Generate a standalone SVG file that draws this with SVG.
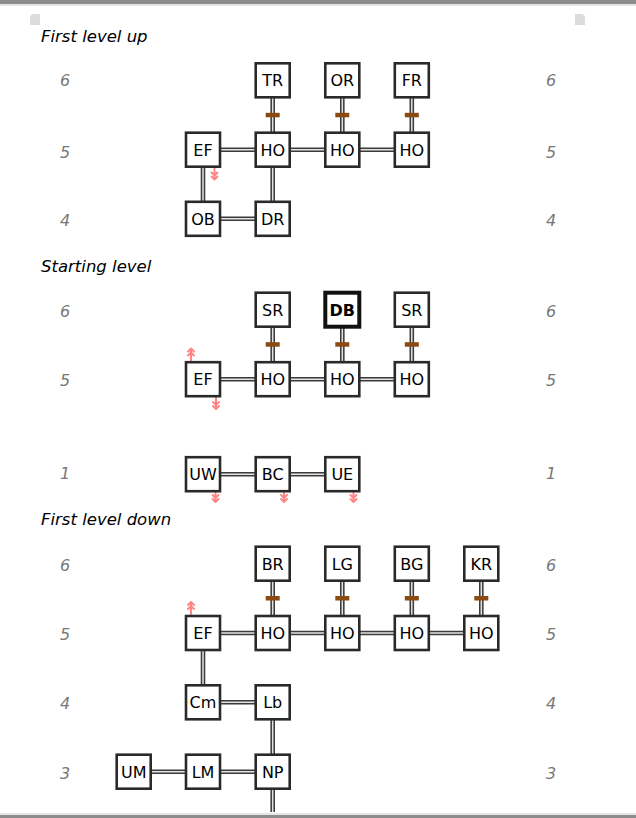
<svg xmlns="http://www.w3.org/2000/svg" xmlns:xlink="http://www.w3.org/1999/xlink" width="636" height="818" viewBox="0 0 636 818">
<style>
.bg{fill:#ffffff}
.box{fill:#ffffff;stroke:#2a2a2a;stroke-width:2.6}
.boxb{fill:#ffffff;stroke:#111111;stroke-width:4}
.lbl{font-family:"DejaVu Sans",sans-serif;font-size:16px;fill:#000;text-anchor:middle}
.lblb{font-weight:bold}
.sec{font-family:"DejaVu Sans",sans-serif;font-style:italic;font-size:16.5px;fill:#000}
.num{font-family:"DejaVu Sans",sans-serif;font-style:italic;font-size:16px;fill:#777;text-anchor:middle}
.co{fill:none;stroke:#3c3c3c;stroke-width:4.6}
.ci{fill:none;stroke:#e2e2e2;stroke-width:1.5}
.mk{fill:#8b4a12}
.ar{fill:none;stroke:#ff8585;stroke-width:2;stroke-linecap:round;stroke-linejoin:round}
</style>
<defs>
<g id="dn"><path class="ar" d="M0 0V12M-3 5L0 8L3 5M-3 9L0 12L3 9"/></g>
<g id="up"><path class="ar" d="M0 12V0M-3 7L0 4L3 7M-3 3L0 0L3 3"/></g>
<path id="p1" d="M203 149.7H411.8M272.7 80.3V218.8M342.3 80.3V149.7M411.8 80.3V149.7M203 149.7V218.8M203 218.8H272.7"/>
<path id="p2" d="M203 379.2H411.8M272.7 309.7V379.2M342.3 309.7V379.2M411.8 309.7V379.2M203 474.2H342.3"/>
<path id="p3" d="M203 633H481.3M272.7 563.7V633M342.3 563.7V633M411.8 563.7V633M481.3 563.7V633M203 633V702.3M203 702.3H272.7M272.7 702.3V812M133.7 771.7H272.7"/>
</defs>
<rect class="bg" x="0" y="0" width="636" height="818"/>
<rect x="0" y="0" width="636" height="4" fill="#8c8c8c"/>
<rect x="0" y="4" width="636" height="2" fill="#e6e6e6"/>
<rect x="0" y="813" width="636" height="2" fill="#e6e6e6"/>
<rect x="0" y="815" width="636" height="3" fill="#8c8c8c"/>
<path d="M30 25V18Q30 14 34 14H40V25Z" fill="#dcdcdc"/>
<path d="M575 14H581Q585 14 585 18V25H575Z" fill="#dcdcdc"/>

<g id="labels">
<text class="sec" x="41" y="42">First level up</text>
<text class="sec" x="41" y="272">Starting level</text>
<text class="sec" x="41" y="525">First level down</text>
<text class="num" x="65" y="86">6</text><text class="num" x="551" y="86">6</text>
<text class="num" x="65" y="158">5</text><text class="num" x="551" y="158">5</text>
<text class="num" x="65" y="226">4</text><text class="num" x="551" y="226">4</text>
<text class="num" x="65" y="317">6</text><text class="num" x="551" y="317">6</text>
<text class="num" x="65" y="386">5</text><text class="num" x="551" y="386">5</text>
<text class="num" x="65" y="479">1</text><text class="num" x="551" y="479">1</text>
<text class="num" x="65" y="571">6</text><text class="num" x="551" y="571">6</text>
<text class="num" x="65" y="640">5</text><text class="num" x="551" y="640">5</text>
<text class="num" x="65" y="709">4</text><text class="num" x="551" y="709">4</text>
<text class="num" x="65" y="779">3</text><text class="num" x="551" y="779">3</text>
</g>

<g id="connectors">
<use xlink:href="#p1" class="co"/><use xlink:href="#p1" class="ci"/>
<use xlink:href="#p2" class="co"/><use xlink:href="#p2" class="ci"/>
<use xlink:href="#p3" class="co"/><use xlink:href="#p3" class="ci"/>
<rect class="mk" x="265.7" y="112.8" width="14" height="4.5"/>
<rect class="mk" x="335.3" y="112.8" width="14" height="4.5"/>
<rect class="mk" x="404.8" y="112.8" width="14" height="4.5"/>
<rect class="mk" x="265.7" y="342.2" width="14" height="4.5"/>
<rect class="mk" x="335.3" y="342.2" width="14" height="4.5"/>
<rect class="mk" x="404.8" y="342.2" width="14" height="4.5"/>
<rect class="mk" x="265.7" y="596" width="14" height="4.5"/>
<rect class="mk" x="335.3" y="596" width="14" height="4.5"/>
<rect class="mk" x="404.8" y="596" width="14" height="4.5"/>
<rect class="mk" x="474.3" y="596" width="14" height="4.5"/>
</g>

<g id="arrows">
<use xlink:href="#dn" x="214.5" y="167.5"/>
<use xlink:href="#up" x="191" y="348.5"/>
<use xlink:href="#dn" x="216" y="397"/>
<use xlink:href="#dn" x="215.5" y="490"/>
<use xlink:href="#dn" x="284" y="490"/>
<use xlink:href="#dn" x="353.5" y="490"/>
<use xlink:href="#up" x="191" y="602"/>
</g>

<g id="n-TR"><rect class="box" x="255.7" y="63.3" width="34" height="34"/><text class="lbl" x="272.7" y="86.1">TR</text></g>
<g id="n-OR"><rect class="box" x="325.3" y="63.3" width="34" height="34"/><text class="lbl" x="342.3" y="86.1">OR</text></g>
<g id="n-FR"><rect class="box" x="394.8" y="63.3" width="34" height="34"/><text class="lbl" x="411.8" y="86.1">FR</text></g>
<g id="n-EF1"><rect class="box" x="186" y="132.7" width="34" height="34"/><text class="lbl" x="203" y="155.5">EF</text></g>
<g id="n-HO1a"><rect class="box" x="255.7" y="132.7" width="34" height="34"/><text class="lbl" x="272.7" y="155.5">HO</text></g>
<g id="n-HO1b"><rect class="box" x="325.3" y="132.7" width="34" height="34"/><text class="lbl" x="342.3" y="155.5">HO</text></g>
<g id="n-HO1c"><rect class="box" x="394.8" y="132.7" width="34" height="34"/><text class="lbl" x="411.8" y="155.5">HO</text></g>
<g id="n-OB"><rect class="box" x="186" y="201.8" width="34" height="34"/><text class="lbl" x="203" y="224.6">OB</text></g>
<g id="n-DR"><rect class="box" x="255.7" y="201.8" width="34" height="34"/><text class="lbl" x="272.7" y="224.6">DR</text></g>

<g id="n-SR1"><rect class="box" x="255.7" y="292.7" width="34" height="34"/><text class="lbl" x="272.7" y="315.5">SR</text></g>
<g id="n-DB"><rect class="boxb" x="325.3" y="292.7" width="34" height="34"/><text class="lbl lblb" x="342.3" y="315.5">DB</text></g>
<g id="n-SR2"><rect class="box" x="394.8" y="292.7" width="34" height="34"/><text class="lbl" x="411.8" y="315.5">SR</text></g>
<g id="n-EF2"><rect class="box" x="186" y="362.2" width="34" height="34"/><text class="lbl" x="203" y="385">EF</text></g>
<g id="n-HO2a"><rect class="box" x="255.7" y="362.2" width="34" height="34"/><text class="lbl" x="272.7" y="385">HO</text></g>
<g id="n-HO2b"><rect class="box" x="325.3" y="362.2" width="34" height="34"/><text class="lbl" x="342.3" y="385">HO</text></g>
<g id="n-HO2c"><rect class="box" x="394.8" y="362.2" width="34" height="34"/><text class="lbl" x="411.8" y="385">HO</text></g>
<g id="n-UW"><rect class="box" x="186" y="457.2" width="34" height="34"/><text class="lbl" x="203" y="480">UW</text></g>
<g id="n-BC"><rect class="box" x="255.7" y="457.2" width="34" height="34"/><text class="lbl" x="272.7" y="480">BC</text></g>
<g id="n-UE"><rect class="box" x="325.3" y="457.2" width="34" height="34"/><text class="lbl" x="342.3" y="480">UE</text></g>

<g id="n-BR"><rect class="box" x="255.7" y="546.7" width="34" height="34"/><text class="lbl" x="272.7" y="569.5">BR</text></g>
<g id="n-LG"><rect class="box" x="325.3" y="546.7" width="34" height="34"/><text class="lbl" x="342.3" y="569.5">LG</text></g>
<g id="n-BG"><rect class="box" x="394.8" y="546.7" width="34" height="34"/><text class="lbl" x="411.8" y="569.5">BG</text></g>
<g id="n-KR"><rect class="box" x="464.3" y="546.7" width="34" height="34"/><text class="lbl" x="481.3" y="569.5">KR</text></g>
<g id="n-EF3"><rect class="box" x="186" y="616" width="34" height="34"/><text class="lbl" x="203" y="638.8">EF</text></g>
<g id="n-HO3a"><rect class="box" x="255.7" y="616" width="34" height="34"/><text class="lbl" x="272.7" y="638.8">HO</text></g>
<g id="n-HO3b"><rect class="box" x="325.3" y="616" width="34" height="34"/><text class="lbl" x="342.3" y="638.8">HO</text></g>
<g id="n-HO3c"><rect class="box" x="394.8" y="616" width="34" height="34"/><text class="lbl" x="411.8" y="638.8">HO</text></g>
<g id="n-HO3d"><rect class="box" x="464.3" y="616" width="34" height="34"/><text class="lbl" x="481.3" y="638.8">HO</text></g>
<g id="n-Cm"><rect class="box" x="186" y="685.3" width="34" height="34"/><text class="lbl" x="203" y="708.1">Cm</text></g>
<g id="n-Lb"><rect class="box" x="255.7" y="685.3" width="34" height="34"/><text class="lbl" x="272.7" y="708.1">Lb</text></g>
<g id="n-UM"><rect class="box" x="116.7" y="754.7" width="34" height="34"/><text class="lbl" x="133.7" y="777.5">UM</text></g>
<g id="n-LM"><rect class="box" x="186" y="754.7" width="34" height="34"/><text class="lbl" x="203" y="777.5">LM</text></g>
<g id="n-NP"><rect class="box" x="255.7" y="754.7" width="34" height="34"/><text class="lbl" x="272.7" y="777.5">NP</text></g>
</svg>
